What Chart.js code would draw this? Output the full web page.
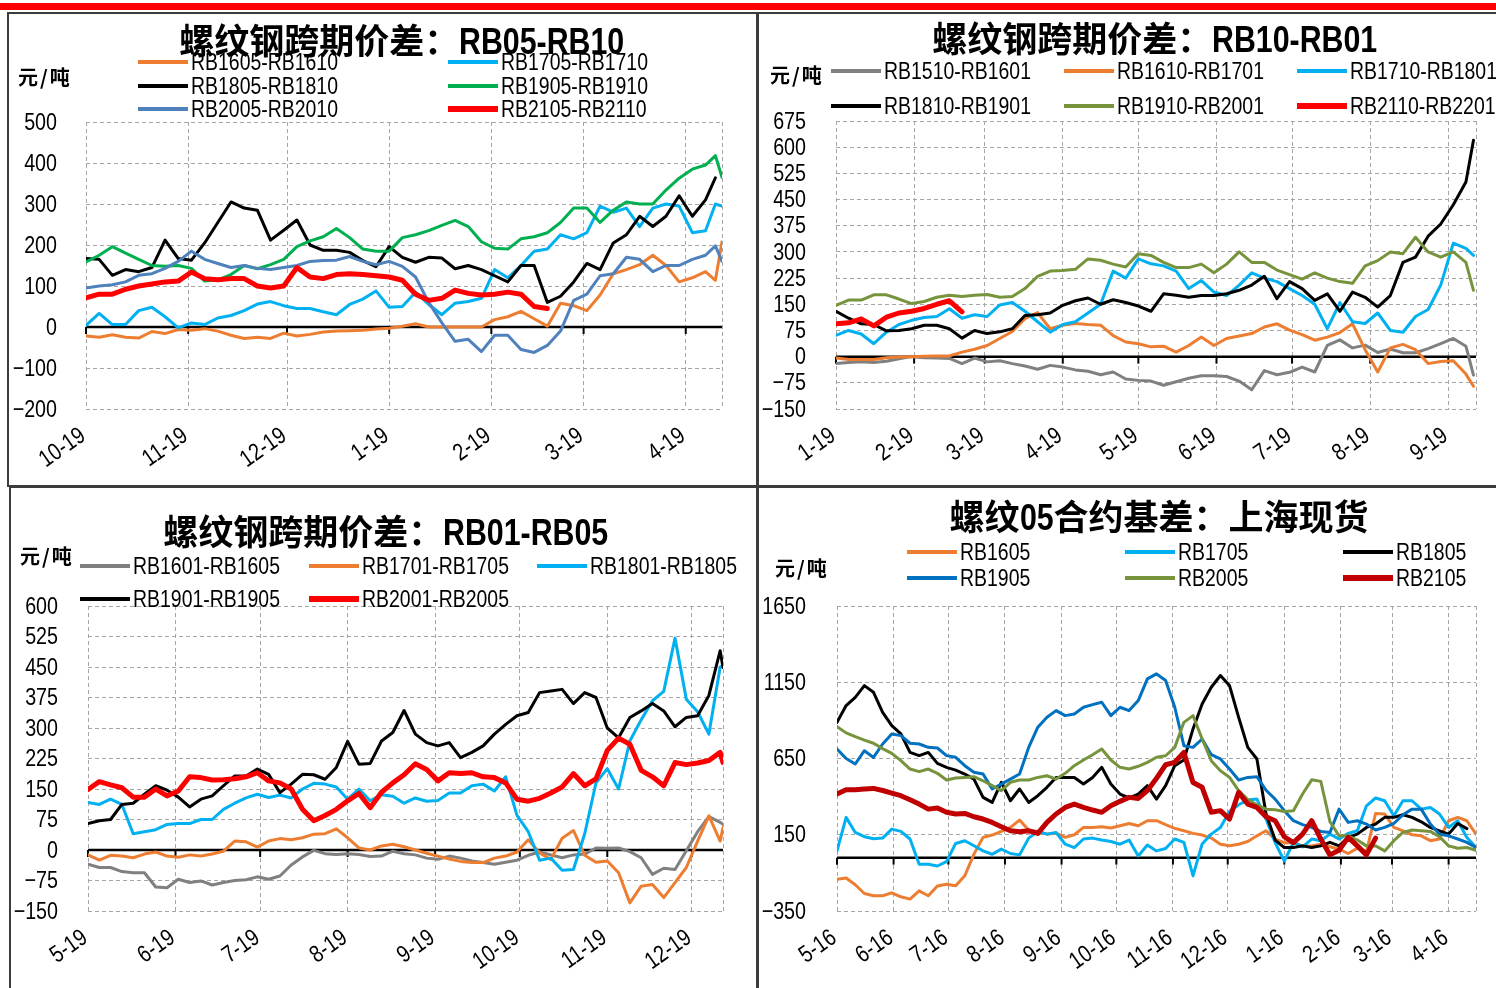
<!DOCTYPE html>
<html><head><meta charset="utf-8">
<script src="https://cdn.jsdelivr.net/npm/chart.js@4"></script>
<style>
html,body{margin:0;padding:0;background:#fff;}
#page{position:relative;width:1496px;height:988px;overflow:hidden;background:#fff;}
.bar{position:absolute;left:0;top:3px;width:1496px;height:7px;background:#ff0000;}
.panel{position:absolute;border:2px solid #3c3c3c;box-sizing:border-box;}
canvas{position:absolute;}
.title{position:absolute;font-family:"Noto Sans CJK SC",sans-serif;font-weight:bold;font-size:35px;line-height:40px;white-space:nowrap;color:#000;z-index:3;}
.title .lat{display:inline-block;font-family:"Liberation Sans",sans-serif;font-size:37px;transform-origin:left center;vertical-align:baseline;}
.unit{position:absolute;font-family:"Noto Sans CJK SC",sans-serif;font-weight:bold;font-size:20px;line-height:22px;letter-spacing:2px;color:#000;z-index:3;white-space:nowrap;}
.lgl{position:absolute;z-index:3;}
.lgt{position:absolute;font-family:"Liberation Sans",sans-serif;font-size:24px;line-height:26px;white-space:nowrap;color:#000;z-index:3;transform:scaleX(0.81);transform-origin:left center;}
</style></head>
<body><div id="page"><div class="bar"></div>
<div class="panel" style="left:7px;top:12px;width:751px;height:475px;"></div>
<div class="panel" style="left:757px;top:12px;width:745px;height:475px;"></div>
<div class="panel" style="left:9px;top:486px;width:749px;height:510px;"></div>
<div class="panel" style="left:757px;top:486px;width:745px;height:510px;"></div>
</div>
<script>
// ---------- Panel 1: RB05-RB10 ----------
const p1Days = [0,4,8,12,16,20,24,28,32,36,40,44,48,52,56,60,64,68,72,76,80,84,88,92,96,100,104,108,112,116,120,124,128,132,136,140,144,148,152,156,160,164,168,172,176,180,184,188,191,193];
const p1Ticks = [0,31,61,92,123,151,182];
const p1TickLabels = ['10-19','11-19','12-19','1-19','2-19','3-19','4-19'];
const p1_RB1605_RB1610 = [-22,-25,-19,-25,-27,-11,-16,-6,-8,-4,-10,-20,-28,-25,-28,-15,-22,-18,-12,-10,-9,-8,-5,-3,2,8,0,0,0,0,0,18,25,38,20,2,58,52,40,78,130,140,152,175,150,110,120,135,114,208];
const p1_RB1705_RB1710 = [4,33,6,6,40,48,25,-2,10,6,22,28,40,56,62,52,45,45,37,30,55,68,88,48,50,85,55,30,58,62,70,140,120,150,185,190,225,215,230,295,280,290,245,290,300,295,230,235,300,295];
const p1_RB1805_RB1810 = [167,165,126,140,135,145,212,167,163,205,255,305,290,285,212,236,261,200,187,187,182,162,147,196,170,158,170,168,142,150,140,125,110,150,150,60,75,110,155,140,205,225,270,245,270,320,270,310,364,null];
const p1_RB1905_RB1910 = [159,175,196,180,165,150,148,150,143,112,115,128,150,142,152,165,196,210,220,240,218,190,185,185,218,225,235,248,260,245,208,192,190,215,220,230,255,290,290,255,285,305,300,300,334,363,385,395,418,365];
const p1_RB2005_RB2010 = [95,100,103,110,126,130,143,160,185,165,155,145,150,143,140,145,150,160,162,163,172,160,152,160,148,122,60,10,-35,-30,-60,-20,-20,-55,-62,-45,-10,65,80,125,130,170,165,135,150,150,165,175,198,160];
const p1_RB2105_RB2110 = [71,80,80,92,100,105,110,112,134,118,115,118,118,100,95,100,145,122,118,128,130,128,125,122,114,80,65,70,90,82,78,80,85,80,50,45,null,null,null,null,null,null,null,null,null,null,null,null,null,null];

// ---------- Panel 2: RB10-RB01 ----------
const p2Days = [0,5,10,15,20,25,30,35,40,45,50,55,60,65,70,75,80,85,90,95,100,105,110,115,120,125,130,135,140,145,150,155,160,165,170,175,180,185,190,195,200,205,210,215,220,225,230,235,240,245,250,253];
const p2Ticks = [0,31,59,90,120,151,181,212,243];
const p2TickLabels = ['1-19','2-19','3-19','4-19','5-19','6-19','7-19','8-19','9-19'];
const p2_RB1510_RB1601 = [-20,-17,-15,-17,-13,-6,0,-3,-4,-5,-20,-4,-15,-12,-20,-27,-36,-25,-30,-38,-42,-52,-44,-64,-68,-70,-82,-72,-62,-55,-55,-57,-70,-95,-40,-52,-45,-30,-44,32,48,25,33,12,22,11,11,23,37,52,30,-53];
const p2_RB1610_RB1701 = [-4,-8,-8,-8,-3,-1,0,1,2,2,13,21,32,52,72,109,126,80,90,95,92,90,60,42,37,28,30,13,32,56,32,52,59,66,85,94,76,63,47,56,69,94,20,-44,25,35,20,-20,-14,-12,-50,-85];
const p2_RB1710_RB1801 = [61,75,65,37,70,92,104,112,115,137,110,120,115,148,155,130,100,70,92,100,125,150,245,225,280,266,260,245,195,218,185,175,205,240,225,215,195,175,150,80,155,100,95,125,75,70,115,135,205,325,310,290];
const p2_RB1810_RB1901 = [130,110,94,92,74,75,80,90,90,80,53,75,66,71,80,118,120,125,147,160,168,150,163,155,145,130,180,176,170,175,175,180,190,205,230,166,215,195,161,180,130,185,170,142,175,270,285,345,380,435,500,620];
const p2_RB1910_RB2001 = [147,162,162,177,177,165,152,158,170,176,172,176,178,170,172,195,230,245,247,250,280,276,265,257,295,290,270,255,255,265,240,265,300,270,270,248,235,222,240,225,215,210,260,275,300,295,342,300,285,300,270,190];
const p2_RB2110_RB2201 = [94,97,108,88,113,125,130,138,150,160,128,null,null,null,null,null,null,null,null,null,null,null,null,null,null,null,null,null,null,null,null,null,null,null,null,null,null,null,null,null,null,null,null,null,null,null,null,null,null,null,null,null];

// ---------- Panel 3: RB01-RB05 ----------
const p3Days = [0,4,8,12,16,20,24,28,32,36,40,44,48,52,56,60,64,68,72,76,80,84,88,92,96,100,104,108,112,116,120,124,128,132,136,140,144,148,152,156,160,164,168,172,176,180,184,188,192,196,200,204,208,212,216,220,224,225];
const p3Ticks = [0,31,61,92,123,153,184,214];
const p3TickLabels = ['5-19','6-19','7-19','8-19','9-19','10-19','11-19','12-19'];
const p3_RB1601_RB1605 = [-35,-43,-43,-53,-56,-56,-91,-93,-72,-80,-76,-86,-80,-75,-73,-66,-72,-64,-37,-17,-1,-9,-11,-9,-11,-16,-15,-3,-9,-12,-20,-23,-15,-20,-27,-31,-35,-30,-25,-13,-5,-12,-19,-12,-10,5,4,5,-4,-19,-60,-45,-48,-2,45,82,68,63];
const p3_RB1701_RB1705 = [-12,-25,-13,-15,-19,-10,-5,-15,-18,-12,-15,-10,-3,22,20,7,22,28,25,30,39,40,52,30,5,0,10,14,8,0,-8,-15,-22,-28,-31,-31,-20,-15,-5,25,-7,-23,29,48,-13,-30,-27,-56,-130,-89,-85,-117,-80,-43,22,84,22,55];
const p3_RB1801_RB1805 = [117,112,125,112,40,45,50,63,65,65,75,75,100,115,128,137,129,135,128,150,164,162,155,125,150,121,136,132,115,128,120,122,140,140,158,162,145,180,85,45,-25,-20,-50,-48,40,165,200,150,268,320,367,390,521,371,340,285,450,455];
const p3_RB1901_RB1905 = [65,72,75,112,115,137,158,147,130,106,125,133,158,182,182,199,186,141,162,186,185,174,203,267,211,213,268,289,343,285,264,256,264,227,240,256,285,309,330,338,387,391,395,360,387,375,300,276,326,342,360,342,303,326,330,380,490,449];
const p3_RB2001_RB2005 = [149,168,160,153,130,130,150,133,145,180,178,172,173,175,180,190,170,165,150,100,72,85,100,121,139,104,142,165,185,212,198,170,190,188,190,180,178,165,125,120,127,140,155,188,158,175,245,275,260,196,180,158,215,210,214,220,240,215];

// ---------- Panel 4: 05 basis, Shanghai spot ----------
const p4Days = [0,5,10,15,20,25,30,35,40,45,50,55,60,65,70,75,80,85,90,95,100,105,110,115,120,125,130,135,140,145,150,155,160,165,170,175,180,185,190,195,200,205,210,215,220,225,230,235,240,245,250,255,260,265,270,275,280,285,290,295,300,305,310,315,320,325,330,335,340,345,350];
const p4Ticks = [0,31,61,92,123,153,184,214,245,276,304,335];
const p4TickLabels = ['5-16','6-16','7-16','8-16','9-16','10-16','11-16','12-16','1-16','2-16','3-16','4-16'];
const p4_RB1605 = [-142,-134,-178,-235,-250,-250,-231,-257,-272,-218,-250,-186,-174,-185,-119,23,133,148,172,198,246,181,172,154,161,133,150,198,198,203,194,209,224,209,242,242,216,192,176,159,148,128,88,78,88,106,143,176,122,98,98,77,77,88,71,55,27,62,40,290,286,198,176,150,143,111,122,242,264,242,154];
const p4_RB1705 = [44,264,165,137,124,128,187,172,122,-44,-44,-55,-26,93,111,78,44,22,56,27,18,128,172,154,165,88,66,122,128,115,106,88,115,11,83,44,60,122,100,-120,90,154,198,303,347,378,384,253,98,-22,100,70,122,111,154,122,159,176,340,391,373,275,373,373,318,329,286,198,242,132,66];
const p4_RB1805 = [887,997,1051,1128,1084,953,865,811,690,669,690,618,592,574,548,515,395,362,494,373,450,362,406,461,526,526,526,483,526,592,483,417,391,417,472,384,472,603,640,844,1008,1117,1194,1128,920,723,647,286,115,66,66,77,66,77,100,77,133,154,198,220,264,264,281,264,235,198,176,154,224,190,null];
const p4_RB1905 = [712,650,614,701,657,745,811,800,750,745,723,719,669,658,603,560,548,450,482,515,548,723,855,920,964,931,942,986,1003,1019,931,986,964,1030,1172,1205,1161,986,734,723,778,675,647,581,509,526,531,442,384,308,242,216,198,172,165,318,231,242,220,181,198,224,281,318,318,220,154,143,122,100,66];
const p4_RB2005 = [859,818,793,770,750,715,684,636,581,564,581,553,509,522,526,531,504,472,439,494,509,509,526,537,515,553,603,640,675,712,640,592,581,599,625,658,668,723,887,931,778,636,570,526,439,380,347,318,314,303,308,417,510,500,235,143,143,115,77,77,44,111,165,181,176,172,137,77,61,66,48];
const p4_RB2105 = [417,445,445,450,454,440,423,406,380,351,318,325,297,286,290,268,253,231,203,176,170,176,159,231,286,329,351,329,312,297,340,369,395,388,439,520,609,625,690,493,461,297,308,253,428,351,329,268,242,137,98,154,242,122,18,48,133,77,18,128,null,null,null,null,null,null,null,null,null,null,null];

// ---------- Rendering ----------
const FONT = "'Liberation Sans',Arial,sans-serif";
const GRID = '#A6A6A6';
const ORANGE = '#ED7D31', LBLUE = '#00B0F0', BLACK = '#000000', GREEN = '#00B050',
      STEEL = '#4F81BD', RED = '#FF0000', GRAY = '#808080', OLIVE = '#77933C',
      BLUE = '#0070C0', DRED = '#C00000';
const SX = 0.82;          // horizontal squeeze of the condensed-looking text
const ROT = -35 * Math.PI / 180;
const fmtY = v => (v < 0 ? '\u2212' + (-v) : String(v));

const zeroLine = {
  id: 'zeroLine',
  beforeDatasetsDraw(chart, args, opts) {
    const {ctx, chartArea, scales} = chart;
    const x = scales.x, y = scales.y;
    const y0 = y.getPixelForValue(0);
    ctx.save();
    ctx.strokeStyle = '#000';
    ctx.lineWidth = 2.5;
    ctx.beginPath(); ctx.moveTo(chartArea.left, y0); ctx.lineTo(chartArea.right, y0); ctx.stroke();
    ctx.lineWidth = 2;
    (opts.ticks || []).forEach(v => {
      const px = x.getPixelForValue(v);
      ctx.beginPath(); ctx.moveTo(px, y0); ctx.lineTo(px, y0 + 7); ctx.stroke();
    });
    ctx.restore();
  }
};

// draws the axis labels at the scales' own tick positions, squeezed horizontally
const tickText = {
  id: 'tickText',
  afterDraw(chart, args, o) {
    const {ctx, chartArea, scales} = chart;
    const x = scales.x, y = scales.y;
    ctx.save();
    ctx.fillStyle = '#000';
    ctx.font = '24px ' + FONT;
    ctx.textAlign = 'right';
    ctx.textBaseline = 'middle';
    y.ticks.forEach(t => {
      const py = y.getPixelForValue(t.value);
      ctx.save(); ctx.translate(chartArea.left - o.yPad, py + 1); ctx.scale(SX, 1);
      ctx.fillText(fmtY(t.value), 0, 0); ctx.restore();
    });
    ctx.textBaseline = 'alphabetic';
    x.ticks.forEach((t, i) => {
      if (i >= o.labels.length) return;
      const px = x.getPixelForValue(t.value);
      ctx.save(); ctx.translate(px + 1, chartArea.bottom + 30); ctx.rotate(ROT); ctx.scale(SX, 1);
      ctx.fillText(o.labels[i], 0, 0); ctx.restore();
    });
    ctx.restore();
  }
};

const page = document.getElementById('page');
function addEl(cls, style, text) {
  const d = document.createElement('div');
  d.className = cls;
  Object.assign(d.style, style);
  if (text !== undefined) d.textContent = text;
  page.appendChild(d);
  return d;
}

function addTitle(t) {
  const d = document.createElement('div');
  d.className = 'title';
  t.parts.forEach(p => {
    const s = document.createElement('span');
    s.textContent = p.text;
    if (p.lat) s.className = 'lat';
    d.appendChild(s);
  });
  d.style.top = t.y + 'px';
  page.appendChild(d);
  d.querySelectorAll('.lat').forEach(s => {
    const w = s.getBoundingClientRect().width;
    s.style.transform = 'scaleX(' + SX + ')';
    s.style.marginRight = (-(1 - SX) * w) + 'px';
  });
  d.style.left = (t.x - d.getBoundingClientRect().width / 2) + 'px';
}

function makePanel(cfg) {
  const c = cfg.canvas, a = cfg.area;
  const cv = document.createElement('canvas');
  cv.width = c.w; cv.height = c.h;
  cv.style.left = c.x + 'px'; cv.style.top = c.y + 'px';
  cv.style.width = c.w + 'px'; cv.style.height = c.h + 'px';
  page.appendChild(cv);
  const n = cfg.series.length;
  const datasets = cfg.series.map((s, i) => ({
    label: s.label,
    data: cfg.days.map((d, j) => ({x: d, y: s.values[j]})),
    borderColor: s.color, backgroundColor: s.color, borderWidth: s.width,
    pointRadius: 0, pointHoverRadius: 0, tension: 0, fill: false, spanGaps: false,
    borderJoinStyle: 'round', borderCapStyle: 'round',
    order: n - i
  }));
  const allTicks = cfg.ticks.concat([cfg.xMax]);
  new Chart(cv, {
    type: 'line',
    data: {datasets},
    options: {
      responsive: false, animation: false, events: [],
      layout: {padding: {left: 0, top: a.T - c.y, right: (c.x + c.w) - a.R, bottom: 0}},
      plugins: {
        legend: {display: false}, tooltip: {enabled: false},
        zeroLine: {ticks: cfg.ticks},
        tickText: {labels: cfg.tickLabels, yPad: cfg.yPad}
      },
      scales: {
        x: {
          type: 'linear', min: 0, max: cfg.xMax,
          afterBuildTicks: sc => { sc.ticks = allTicks.map(v => ({value: v})); },
          afterFit: sc => { sc.height = (c.y + c.h) - a.B; },
          grid: {color: GRID, lineWidth: 1, drawTicks: false},
          border: {display: false, dash: [4, 3]},
          ticks: {display: false, autoSkip: false}
        },
        y: {
          min: cfg.yMin, max: cfg.yMax,
          afterFit: sc => { sc.width = a.L - c.x; },
          grid: {color: GRID, lineWidth: 1, drawTicks: false},
          border: {display: false, dash: [4, 3]},
          ticks: {display: false, autoSkip: false, stepSize: cfg.yStep}
        }
      }
    },
    plugins: [zeroLine, tickText]
  });
  addTitle(cfg.title);
  addEl('unit', {left: cfg.unit.x + 'px', top: cfg.unit.y + 'px'}, '元/吨');
  const L = cfg.legend;
  cfg.series.forEach((s, i) => {
    const col = i % L.cols.length, row = Math.floor(i / L.cols.length);
    const lx = L.cols[col], ly = L.rows[row];
    const lw = s.width >= 4 ? 6 : 4;
    addEl('lgl', {left: lx + 'px', top: (ly - lw / 2) + 'px', width: '50px', height: lw + 'px', background: s.color});
    addEl('lgt', {left: (lx + 53) + 'px', top: (ly - 13) + 'px'}, s.label);
  });
}

makePanel({
  canvas: {x: 9, y: 14, w: 747, h: 471}, area: {L: 86, T: 122, R: 722, B: 409},
  days: p1Days, ticks: p1Ticks, tickLabels: p1TickLabels, xMax: 193,
  yMin: -200, yMax: 500, yStep: 100, yPad: 29,
  title: {x: 402, y: 19, parts: [{text: '螺纹钢跨期价差：'}, {text: 'RB05-RB10', lat: true}]},
  unit: {x: 18, y: 66},
  legend: {cols: [138, 448], rows: [62, 86, 109]},
  series: [
    {label: 'RB1605-RB1610', values: p1_RB1605_RB1610, color: ORANGE, width: 3},
    {label: 'RB1705-RB1710', values: p1_RB1705_RB1710, color: LBLUE, width: 3},
    {label: 'RB1805-RB1810', values: p1_RB1805_RB1810, color: BLACK, width: 3},
    {label: 'RB1905-RB1910', values: p1_RB1905_RB1910, color: GREEN, width: 3},
    {label: 'RB2005-RB2010', values: p1_RB2005_RB2010, color: STEEL, width: 3},
    {label: 'RB2105-RB2110', values: p1_RB2105_RB2110, color: RED, width: 5}
  ]
});

makePanel({
  canvas: {x: 760, y: 14, w: 734, h: 471}, area: {L: 836, T: 121, R: 1476, B: 409},
  days: p2Days, ticks: p2Ticks, tickLabels: p2TickLabels, xMax: 254,
  yMin: -150, yMax: 675, yStep: 75, yPad: 30,
  title: {x: 1155, y: 17, parts: [{text: '螺纹钢跨期价差：'}, {text: 'RB10-RB01', lat: true}]},
  unit: {x: 770, y: 64},
  legend: {cols: [831, 1064, 1297], rows: [71, 106]},
  series: [
    {label: 'RB1510-RB1601', values: p2_RB1510_RB1601, color: GRAY, width: 3},
    {label: 'RB1610-RB1701', values: p2_RB1610_RB1701, color: ORANGE, width: 3},
    {label: 'RB1710-RB1801', values: p2_RB1710_RB1801, color: LBLUE, width: 3},
    {label: 'RB1810-RB1901', values: p2_RB1810_RB1901, color: BLACK, width: 3},
    {label: 'RB1910-RB2001', values: p2_RB1910_RB2001, color: OLIVE, width: 3},
    {label: 'RB2110-RB2201', values: p2_RB2110_RB2201, color: RED, width: 5}
  ]
});

makePanel({
  canvas: {x: 11, y: 489, w: 745, h: 497}, area: {L: 88, T: 606, R: 723, B: 911},
  days: p3Days, ticks: p3Ticks, tickLabels: p3TickLabels, xMax: 225,
  yMin: -150, yMax: 600, yStep: 75, yPad: 30,
  title: {x: 386, y: 510, parts: [{text: '螺纹钢跨期价差：'}, {text: 'RB01-RB05', lat: true}]},
  unit: {x: 20, y: 545},
  legend: {cols: [80, 309, 537], rows: [566, 599]},
  series: [
    {label: 'RB1601-RB1605', values: p3_RB1601_RB1605, color: GRAY, width: 3},
    {label: 'RB1701-RB1705', values: p3_RB1701_RB1705, color: ORANGE, width: 3},
    {label: 'RB1801-RB1805', values: p3_RB1801_RB1805, color: LBLUE, width: 3},
    {label: 'RB1901-RB1905', values: p3_RB1901_RB1905, color: BLACK, width: 3},
    {label: 'RB2001-RB2005', values: p3_RB2001_RB2005, color: RED, width: 5}
  ]
});

makePanel({
  canvas: {x: 760, y: 489, w: 734, h: 497}, area: {L: 837, T: 606, R: 1476, B: 911},
  days: p4Days, ticks: p4Ticks, tickLabels: p4TickLabels, xMax: 350,
  yMin: -350, yMax: 1650, yStep: 500, yPad: 31,
  title: {x: 1159, y: 495, parts: [{text: '螺纹'}, {text: '05', lat: true}, {text: '合约基差：上海现货'}]},
  unit: {x: 775, y: 557},
  legend: {cols: [907, 1125, 1343], rows: [552, 578]},
  series: [
    {label: 'RB1605', values: p4_RB1605, color: ORANGE, width: 3},
    {label: 'RB1705', values: p4_RB1705, color: LBLUE, width: 3},
    {label: 'RB1805', values: p4_RB1805, color: BLACK, width: 3},
    {label: 'RB1905', values: p4_RB1905, color: BLUE, width: 3},
    {label: 'RB2005', values: p4_RB2005, color: OLIVE, width: 3},
    {label: 'RB2105', values: p4_RB2105, color: DRED, width: 5}
  ]
});
</script>
</body></html>
